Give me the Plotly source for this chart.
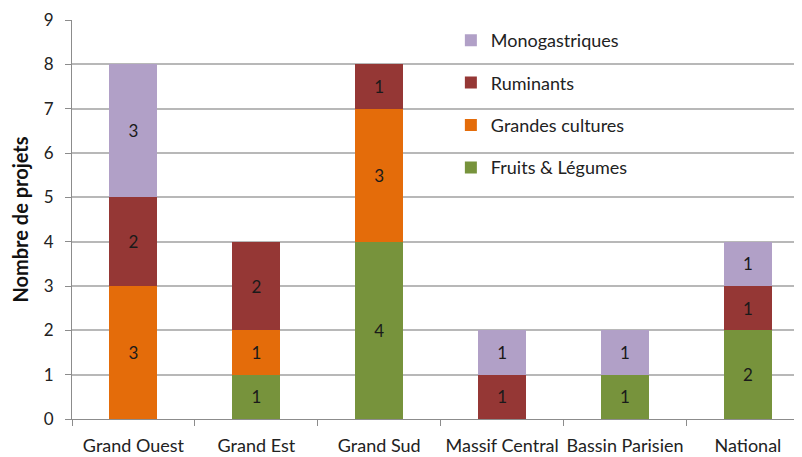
import plotly.graph_objects as go

categories = ["Grand Ouest", "Grand Est", "Grand Sud", "Massif Central", "Bassin Parisien", "National"]
fruits_legumes = [0, 1, 4, 0, 1, 2]
grandes_cultures = [3, 1, 3, 0, 0, 0]
ruminants = [2, 2, 1, 1, 0, 1]
monogastriques = [3, 0, 0, 1, 1, 1]

series = [
    ("Fruits & Légumes", fruits_legumes, "#77933C"),
    ("Grandes cultures", grandes_cultures, "#E46C0A"),
    ("Ruminants", ruminants, "#953735"),
    ("Monogastriques", monogastriques, "#B1A0C7"),
]

font_family = "Lato, 'Open Sans', sans-serif"

fig = go.Figure()
for i, (name, vals, color) in enumerate(series):
    fig.add_trace(go.Bar(
        x=categories,
        y=[v if v else None for v in vals],
        name=name,
        legendgroup=name,
        legendrank=100 - i,
        marker=dict(color=color, line=dict(width=0)),
        width=0.39,
        text=[str(v) if v else "" for v in vals],
        textposition="inside",
        insidetextanchor="middle",
        textfont=dict(color="#1a1a1a", size=17, family=font_family),
        textangle=0,
    ))

fig.update_layout(
    barmode="stack",
    width=794, height=449,
    margin=dict(l=64, r=0, t=12, b=38),
    paper_bgcolor="white", plot_bgcolor="white",
    font=dict(family=font_family, size=17, color="#222222"),
    showlegend=True,
    legend=dict(
        x=0.519, y=0.995, xanchor="left", yanchor="top",
        traceorder="grouped",
        tracegroupgap=16,
        font=dict(size=18, family=font_family, color="#222222"),
        bgcolor="rgba(0,0,0,0)",
        itemwidth=30,
    ),
    uniformtext=dict(minsize=10, mode="show"),
)
fig.update_xaxes(
    range=[-0.5, 5.44],
    automargin=False, tickangle=0,
    showline=True, linecolor="#8c8c8c", linewidth=1,
    ticks="outside", tickson="boundaries", ticklen=6, tickcolor="#8c8c8c",
    ticklabelstandoff=10,
    tickfont=dict(size=18, color="#222222"),
    showgrid=False,
)
fig.update_yaxes(
    range=[0, 9], dtick=1,
    automargin=False,
    showline=True, linecolor="#8c8c8c", linewidth=1,
    ticks="outside", ticklen=6, tickcolor="#8c8c8c",
    ticklabelstandoff=8,
    tickfont=dict(size=17, color="#222222"),
    showgrid=True, gridcolor="#b8b8b8", gridwidth=1.5,
    zeroline=False,
    title=dict(text="<b>Nombre de projets</b>", font=dict(size=20, color="#111111"), standoff=10),
)

fig.write_html("out.html")
